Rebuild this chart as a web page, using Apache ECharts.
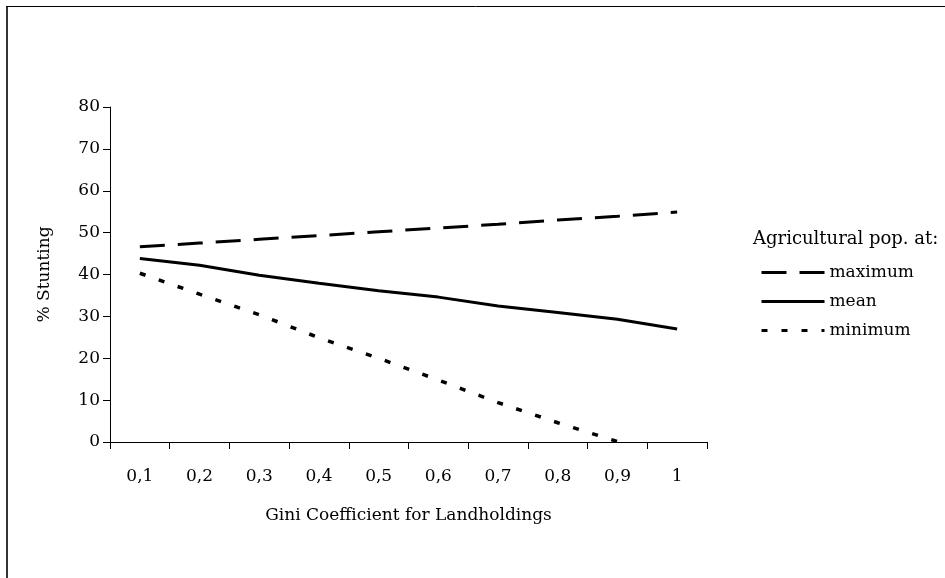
<!DOCTYPE html>
<html>
<head>
<meta charset="utf-8">
<script src="https://cdn.jsdelivr.net/npm/echarts@6/dist/echarts.min.js"></script>
<style>
html,body{margin:0;padding:0;background:#fff;}
#chart{width:945px;height:578px;}
</style>
</head>
<body>
<div id="chart"></div>
<script>
var categories = ['0,1','0,2','0,3','0,4','0,5','0,6','0,7','0,8','0,9','1'];
var maximumValues = [46.6, 47.5, 48.4, 49.3, 50.2, 51.1, 52.0, 53.0, 53.9, 54.9];
var meanValues = [43.8, 42.2, 39.8, 37.9, 36.1, 34.6, 32.5, 30.9, 29.3, 27.0];
var minimumValues = [40.3, 35.3, 30.4, 24.9, 20.0, 14.8, 9.4, 4.6, 0.1, -4.4];
var yTicks = { min: 0, max: 80, interval: 10 };

var FONT = 'DejaVu Serif';
var chart = echarts.init(document.getElementById('chart'), null, {renderer: 'canvas'});
chart.setOption({
  backgroundColor: '#fff',
  animation: false,
  title: {
    text: 'Agricultural pop. at:',
    left: 748, top: 225,
    textStyle: {fontFamily: FONT, fontSize: 18, fontWeight: 'normal', color: '#000'}
  },
  legend: {
    orient: 'vertical',
    left: 755, top: 259,
    itemWidth: 63, itemHeight: 14, itemGap: 12,
    itemStyle: {opacity: 0},
    lineStyle: {width: 3},
    textStyle: {fontFamily: FONT, fontSize: 17, color: '#000', lineHeight: 14, padding: [0,0,0,0]},
    data: ['maximum','mean','minimum']
  },
  grid: {left: 110, right: 238, top: 107, bottom: 136, containLabel: false},
  xAxis: {
    type: 'category',
    data: categories,
    boundaryGap: true,
    name: 'Gini Coefficient for Landholdings',
    nameLocation: 'middle',
    nameGap: 65,
    nameTextStyle: {fontFamily: FONT, fontSize: 17, color: '#000'},
    axisLine: {lineStyle: {color: '#000', width: 1}},
    axisTick: {show: true, length: 7, inside: false, alignWithLabel: false, lineStyle: {color: '#000'}},
    axisLabel: {fontFamily: FONT, fontSize: 17, color: '#000', margin: 26},
    splitLine: {show: false}
  },
  yAxis: {
    type: 'value',
    min: yTicks.min, max: yTicks.max, interval: yTicks.interval,
    name: '% Stunting',
    nameLocation: 'middle',
    nameRotate: 90,
    nameGap: 57,
    nameTextStyle: {fontFamily: FONT, fontSize: 17, color: '#000'},
    axisLine: {show: true, lineStyle: {color: '#000', width: 1}},
    axisTick: {show: true, length: 7, lineStyle: {color: '#000'}},
    axisLabel: {fontFamily: FONT, fontSize: 17, color: '#000', margin: 10},
    splitLine: {show: false}
  },
  series: [
    {name: 'maximum', type: 'line', data: maximumValues, symbol: 'none', clip: true,
     lineStyle: {color: '#000', width: 3, type: [25, 13]}, itemStyle: {color: '#000'}},
    {name: 'mean', type: 'line', data: meanValues, symbol: 'none', clip: true,
     lineStyle: {color: '#000', width: 3, type: 'solid'}, itemStyle: {color: '#000'}},
    {name: 'minimum', type: 'line', data: minimumValues, symbol: 'none', clip: true,
     lineStyle: {color: '#000', width: 3.5, type: [6, 14]}, itemStyle: {color: '#000'}}
  ],
  graphic: [
    {type: 'line', shape: {x1: 7, y1: 6, x2: 7, y2: 578}, style: {stroke: '#333', lineWidth: 2}},
    {type: 'line', shape: {x1: 6, y1: 6.5, x2: 945, y2: 6.5}, style: {stroke: '#000', lineWidth: 1}}
  ]
});
</script>
</body>
</html>
